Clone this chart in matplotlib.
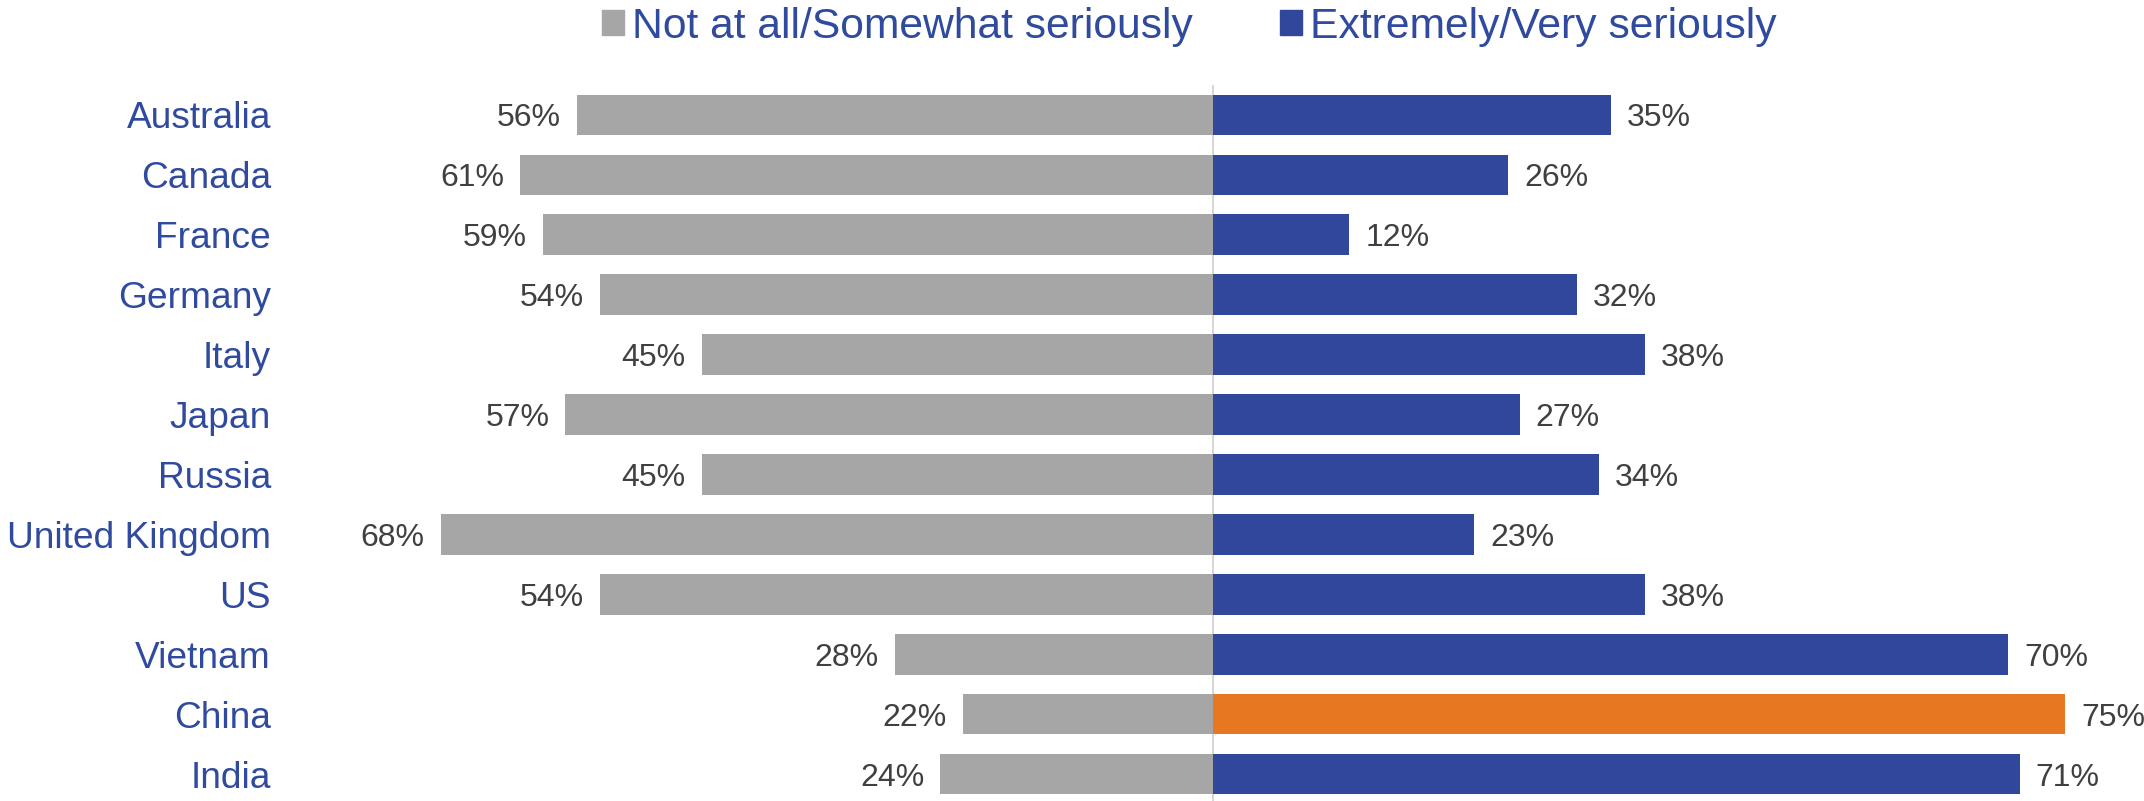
import matplotlib
matplotlib.use('Agg')
import matplotlib.pyplot as plt
from matplotlib.patches import Patch

countries = ['Australia', 'Canada', 'France', 'Germany', 'Italy', 'Japan',
             'Russia', 'United Kingdom', 'US', 'Vietnam', 'China', 'India']
not_serious = [56, 61, 59, 54, 45, 57, 45, 68, 54, 28, 22, 24]
very_serious = [35, 26, 12, 32, 38, 27, 34, 23, 38, 70, 75, 71]
highlight = 'China'

gray = '#A6A6A6'
blue = '#30479C'
orange = '#E87722'
label_blue = '#2F4A9E'
text_gray = '#404040'

plt.rcParams['font.family'] = ['Liberation Sans', 'DejaVu Sans']

W, H = 2144, 801
fig = plt.figure(figsize=(W / 100, H / 100), dpi=100)
left_px, top_px = 290, 85
ax = fig.add_axes([left_px / W, 0, 1 - left_px / W, 1 - top_px / H])

ppx = 11.36  # pixels per percent
cx = 1213
ax.set_xlim(-(cx - left_px) / ppx, (W - cx) / ppx)
ax.set_ylim(11.45, -0.5)

y = list(range(len(countries)))
right_colors = [orange if c == highlight else blue for c in countries]
ax.barh(y, [-v for v in not_serious], height=0.68, color=gray)
ax.barh(y, very_serious, height=0.68, color=right_colors)
ax.axvline(0, color='#D0D0D0', lw=1.2, zorder=0)

for i in y:
    ax.annotate(f'{not_serious[i]}%', (-not_serious[i], i), xytext=(-11.5, 0),
                textcoords='offset points', ha='right', va='center_baseline',
                fontsize=23, color=text_gray)
    ax.annotate(f'{very_serious[i]}%', (very_serious[i], i), xytext=(11.5, 0),
                textcoords='offset points', ha='left', va='center_baseline',
                fontsize=23, color=text_gray)

ax.set_yticks(y)
ax.set_yticklabels(countries, fontsize=26.7, color=label_blue)
ax.tick_params(axis='y', length=0, pad=13.7)
ax.set_xticks([])
for s in ax.spines.values():
    s.set_visible(False)

handles = [Patch(color=gray, label='Not at all/Somewhat seriously'),
           Patch(color=blue, label='Extremely/Very seriously')]
leg = fig.legend(handles=handles, loc='center left', bbox_to_anchor=(602 / W, 1 - 27 / H),
                 ncol=2, frameon=False, fontsize=30.7, borderpad=0, borderaxespad=0,
                 handlelength=0.52, handleheight=0.52, handletextpad=0.19,
                 columnspacing=2.04)
for t in leg.get_texts():
    t.set_color(label_blue)

plt.savefig('out.png', dpi=100)
